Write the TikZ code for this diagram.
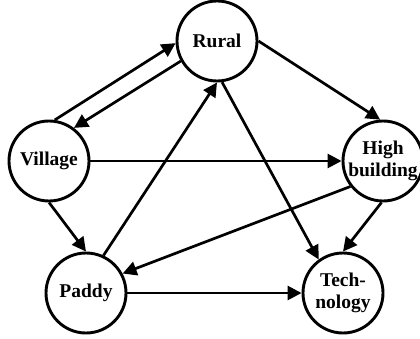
\documentclass[tikz,border=0pt]{standalone}
\usepackage{fontspec}
\setmainfont{Liberation Serif}
\usetikzlibrary{arrows.meta}
\begin{document}
\begin{tikzpicture}[x=1pt,y=-1pt,
  circ/.style={circle,draw,line width=2.9pt,minimum size=80pt,inner sep=0pt},
  txt/.style={font=\fontsize{19.5}{22.5}\selectfont\bfseries,align=center,inner sep=0pt},
  arr/.style={line width=2.7pt,-{Triangle[length=14pt,width=14pt]}}]
\useasboundingbox (0,0) rectangle (420,339);
\node[circ] (r) at (217,41) {};
\node[circ] (v) at (49,161) {};
\node[circ] (h) at (383,161) {};
\node[circ] (p) at (86,293) {};
\node[circ] (t) at (343,293) {};
\node[txt] (rt) at (r) {Rural};
\node[txt] (vt) at (v) {Village};
\node[txt] (ht) at (h) {High\\building};
\node[txt] (pt) at (p) {Paddy};
\node[txt] (tt) at (t) {Tech-\\nology};
\draw[arr] (v.82) -- (r.183);
\draw[arr] (r.209) -- (v.53);
\draw[arr] (r.0) -- (h.94);
\draw[arr] (r.277) -- (t.126);
\draw[arr] (p.65) -- (r.270);
\draw[arr] (v.0) -- (h.180);
\draw[arr] (v.270) -- (p.90);
\draw[arr] (h.218) -- (p.28);
\draw[arr] (h.268) -- (t.90);
\draw[arr] (p.0) -- (t.180);
\end{tikzpicture}
\end{document}
